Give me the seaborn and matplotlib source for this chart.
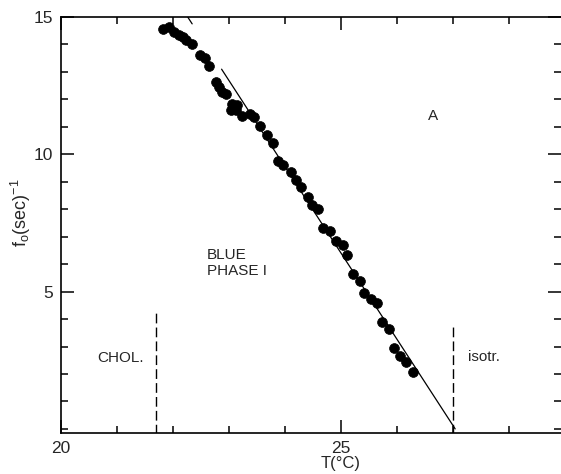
import matplotlib
matplotlib.use("Agg")
import matplotlib.pyplot as plt
import numpy as np
import pandas as pd
import seaborn as sns

# --------------------------------------------
# DATA
# --------------------------------------------
T_VALUES = [
    21.82, 21.93, 22.02, 22.11, 22.18, 22.24, 22.34, 22.48, 22.58, 22.65,
    22.76, 22.82, 22.88, 22.95, 23.05, 23.14, 23.04, 23.13, 23.24, 23.37,
    23.45, 23.55, 23.68, 23.78, 23.88, 23.97, 24.11, 24.19, 24.29, 24.41,
    24.49, 24.59, 24.68, 24.80, 24.91, 25.03, 25.11, 25.21, 25.34, 25.42,
    25.53, 25.64, 25.74, 25.86, 25.95, 26.05, 26.16, 26.28,
]
F_VALUES = [
    14.57, 14.62, 14.47, 14.35, 14.26, 14.17, 14.02, 13.61, 13.51, 13.21,
    12.63, 12.45, 12.27, 12.19, 11.83, 11.80, 11.62, 11.60, 11.39, 11.47,
    11.36, 11.03, 10.72, 10.41, 9.77, 9.61, 9.35, 9.08, 8.82, 8.44,
    8.16, 7.99, 7.31, 7.22, 6.85, 6.69, 6.32, 5.63, 5.37, 4.96,
    4.74, 4.58, 3.88, 3.63, 2.93, 2.65, 2.42, 2.08,
]

# straight line f = slope * (T0 - T), drawn in two pieces (gap near the dots)
FIT_T0 = 27.04
FIT_SLOPE = 3.14
FIT_F_SEGMENTS = [(14.75, 15.0), (0.0, 13.1)]

# phase boundaries (dashed): temperature and height of the dash line
BOUNDARY_T = [21.70, 27.00]
BOUNDARY_TOP = [4.25, 3.85]

PHASE_LABELS = ["CHOL.", "BLUE\nPHASE I", "isotr.", "A"]
PHASE_LABEL_T = [20.64, 22.61, 27.27, 26.64]
PHASE_LABEL_F = [2.57, 6.05, 2.6, 11.4]
PHASE_LABEL_HA = ["left", "left", "left", "center"]

X_MAJOR = [20, 25]
Y_MAJOR = [5, 10, 15]


def main():
    sns.set_style("ticks")
    plt.rcParams["font.family"] = ["Liberation Sans", "DejaVu Sans"]

    fig = plt.figure(figsize=(5.61, 4.74), dpi=100)
    ax = fig.add_axes([61 / 561, 1 - 433 / 474, 1 - 61 / 561, 416 / 474])

    df = pd.DataFrame({"T": T_VALUES, "f": F_VALUES})
    sns.scatterplot(
        data=df, x="T", y="f", ax=ax, s=50, color="black",
        edgecolor="black", linewidth=0.5, zorder=3,
    )

    # fitted straight line
    for f_lo, f_hi in FIT_F_SEGMENTS:
        f_seg = np.array([f_lo, f_hi])
        t_seg = FIT_T0 - f_seg / FIT_SLOPE
        ax.plot(t_seg, f_seg, color="black", lw=0.9, zorder=2)

    # dashed phase boundaries
    for t, top in zip(BOUNDARY_T, BOUNDARY_TOP):
        ax.plot([t, t], [-0.2, top], color="black", lw=1.0,
                linestyle=(0, (7, 3)), zorder=2)

    for text, t, f, ha in zip(PHASE_LABELS, PHASE_LABEL_T, PHASE_LABEL_F,
                              PHASE_LABEL_HA):
        ax.text(t, f, text, ha=ha, va="center", fontsize=11,
                linespacing=1.2)

    ax.set_xlim(20, 28.93)
    ax.set_ylim(-0.15, 15)

    ax.set_xticks(X_MAJOR)
    ax.set_xticks(np.arange(20, 29), minor=True)
    ax.set_yticks(Y_MAJOR)
    ax.set_yticks(np.arange(0, 16), minor=True)
    ax.set_xticklabels([str(v) for v in X_MAJOR])
    ax.set_yticklabels([str(v) for v in Y_MAJOR])

    ax.tick_params(which="both", direction="in", top=True, right=True,
                   width=1.1, color="black", labelsize=12.5)
    ax.tick_params(which="major", length=9.5)
    ax.tick_params(which="minor", length=5)
    ax.tick_params(axis="x", pad=6)
    ax.tick_params(axis="y", pad=6)

    for side in ["left", "bottom", "top"]:
        ax.spines[side].set_color("black")
        ax.spines[side].set_linewidth(1.2)
    ax.spines["right"].set_visible(False)

    ax.set_xlabel("T(°C)", fontsize=12)
    ax.xaxis.set_label_coords((25 - 20) / (28.93 - 20), -0.055)
    ax.set_ylabel(r"f$_\mathregular{o}$(sec)$^\mathregular{-1}$", fontsize=13)
    ax.yaxis.set_label_coords(-0.056, 0.53)

    fig.savefig("out.png", dpi=100)
    plt.close(fig)


if __name__ == "__main__":
    main()
